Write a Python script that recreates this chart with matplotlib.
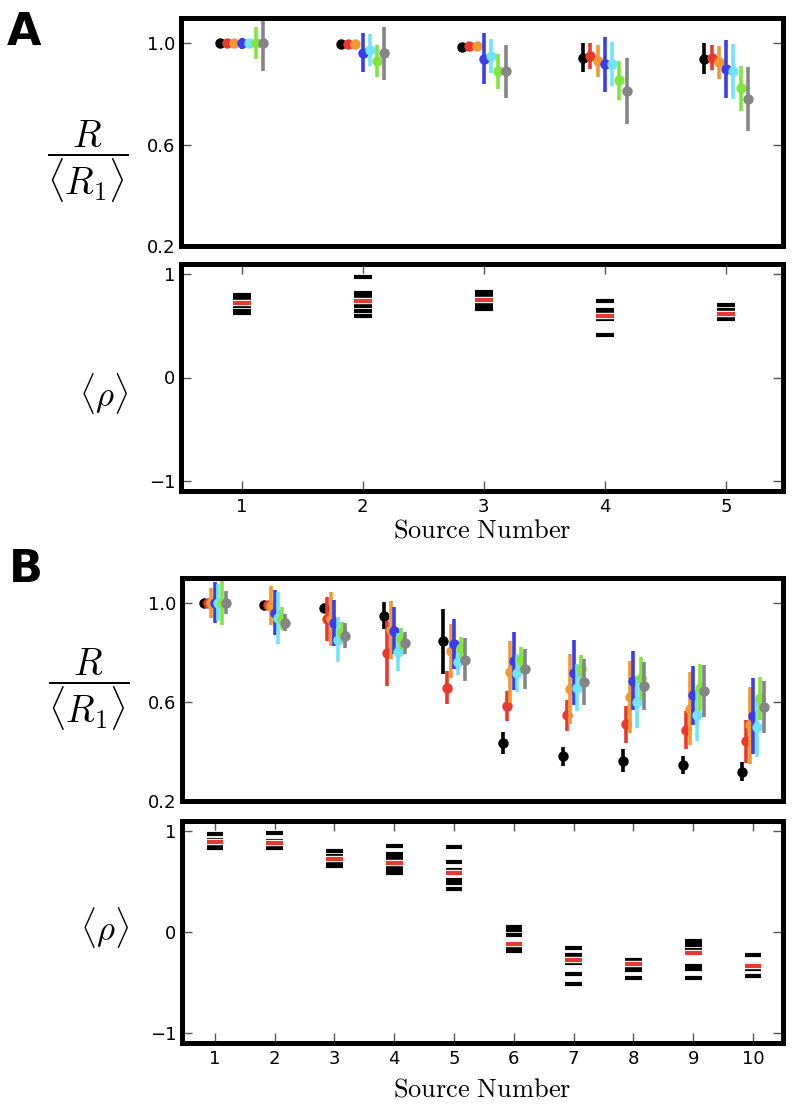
import matplotlib
matplotlib.use('Agg')
import matplotlib.pyplot as plt
import matplotlib.patheffects as pe
import numpy as np

plt.rcParams['mathtext.fontset'] = 'cm'
plt.rcParams['font.family'] = ['DejaVu Sans']

# ---------------- data ----------------
series_colors = ['#000000', '#e8392e', '#f2992f', '#3b3bef', '#70e4ff', '#80e63c', '#858585']
mean_color = '#e8392e'

sources_A = [1, 2, 3, 4, 5]
sources_B = [1, 2, 3, 4, 5, 6, 7, 8, 9, 10]

# Panel A, R/<R1> (one list per series: black, red, orange, blue, cyan, green, gray)
A_R_black = [1.000, 0.996, 0.987, 0.944, 0.940]
A_R_red = [1.000, 0.996, 0.990, 0.949, 0.944]
A_R_orange = [1.000, 0.996, 0.990, 0.930, 0.926]
A_R_blue = [1.000, 0.962, 0.940, 0.917, 0.900]
A_R_cyan = [1.000, 0.973, 0.949, 0.917, 0.890]
A_R_green = [1.000, 0.930, 0.890, 0.855, 0.823]
A_R_gray = [1.000, 0.960, 0.890, 0.812, 0.781]

A_E_black = [0.004, 0.004, 0.004, 0.058, 0.061]
A_E_red = [0.004, 0.004, 0.004, 0.051, 0.051]
A_E_orange = [0.004, 0.004, 0.004, 0.063, 0.065]
A_E_blue = [0.022, 0.077, 0.099, 0.109, 0.115]
A_E_cyan = [0.010, 0.064, 0.068, 0.087, 0.109]
A_E_green = [0.063, 0.064, 0.069, 0.077, 0.089]
A_E_gray = [0.110, 0.106, 0.104, 0.131, 0.126]

# Panel A, <rho> (black dashes per source, red = mean)
A_rho_1 = [0.80, 0.77, 0.74, 0.69, 0.64, 0.625]
A_rho_2 = [0.977, 0.82, 0.79, 0.69, 0.64, 0.60]
A_rho_3 = [0.83, 0.80, 0.77, 0.72, 0.69, 0.66]
A_rho_4 = [0.74, 0.655, 0.625, 0.58, 0.565, 0.41]
A_rho_5 = [0.70, 0.655, 0.63, 0.60, 0.58, 0.565]
A_rho_mean = [0.72, 0.745, 0.755, 0.60, 0.615]

# Panel B, R/<R1>
B_R_black = [1.000, 0.993, 0.980, 0.948, 0.844, 0.435, 0.380, 0.363, 0.345, 0.319]
B_R_red = [1.000, 0.993, 0.935, 0.797, 0.657, 0.584, 0.546, 0.509, 0.485, 0.441]
B_R_orange = [1.000, 0.989, 0.935, 0.892, 0.806, 0.722, 0.652, 0.620, 0.573, 0.505]
B_R_blue = [1.000, 0.959, 0.919, 0.887, 0.833, 0.765, 0.718, 0.685, 0.627, 0.542]
B_R_cyan = [1.000, 0.939, 0.851, 0.803, 0.763, 0.715, 0.657, 0.600, 0.546, 0.498]
B_R_green = [1.000, 0.936, 0.882, 0.854, 0.817, 0.769, 0.733, 0.695, 0.658, 0.614]
B_R_gray = [1.000, 0.919, 0.867, 0.837, 0.770, 0.733, 0.679, 0.664, 0.645, 0.580]

B_E_black = [0.004, 0.004, 0.016, 0.054, 0.130, 0.044, 0.039, 0.046, 0.037, 0.038]
B_E_red = [0.004, 0.004, 0.090, 0.131, 0.067, 0.060, 0.063, 0.073, 0.077, 0.087]
B_E_orange = [0.061, 0.077, 0.108, 0.117, 0.110, 0.125, 0.142, 0.144, 0.146, 0.154]
B_E_blue = [0.083, 0.091, 0.093, 0.095, 0.100, 0.117, 0.132, 0.119, 0.119, 0.153]
B_E_cyan = [0.075, 0.105, 0.092, 0.077, 0.055, 0.077, 0.095, 0.105, 0.103, 0.122]
B_E_green = [0.088, 0.045, 0.041, 0.043, 0.043, 0.054, 0.058, 0.088, 0.096, 0.088]
B_E_gray = [0.046, 0.034, 0.050, 0.045, 0.087, 0.081, 0.093, 0.098, 0.105, 0.104]

# Panel B, <rho>
B_rho_1 = [0.97, 0.91, 0.88, 0.86, 0.845, 0.835]
B_rho_2 = [0.983, 0.90, 0.87, 0.85, 0.84, 0.83]
B_rho_3 = [0.80, 0.75, 0.70, 0.685, 0.67, 0.655]
B_rho_4 = [0.85, 0.77, 0.73, 0.63, 0.605, 0.58]
B_rho_5 = [0.84, 0.69, 0.61, 0.52, 0.485, 0.43]
B_rho_6 = [0.05, 0.017, -0.033, -0.16, -0.175, -0.19]
B_rho_7 = [-0.16, -0.23, -0.265, -0.31, -0.42, -0.513]
B_rho_8 = [-0.275, -0.30, -0.33, -0.35, -0.38, -0.457]
B_rho_9 = [-0.093, -0.132, -0.175, -0.34, -0.364, -0.457]
B_rho_10 = [-0.228, -0.33, -0.35, -0.37, -0.437]
B_rho_mean = [0.895, 0.88, 0.72, 0.685, 0.58, -0.123, -0.28, -0.32, -0.205, -0.341]

A_R = [A_R_black, A_R_red, A_R_orange, A_R_blue, A_R_cyan, A_R_green, A_R_gray]
A_E = [A_E_black, A_E_red, A_E_orange, A_E_blue, A_E_cyan, A_E_green, A_E_gray]
B_R = [B_R_black, B_R_red, B_R_orange, B_R_blue, B_R_cyan, B_R_green, B_R_gray]
B_E = [B_E_black, B_E_red, B_E_orange, B_E_blue, B_E_cyan, B_E_green, B_E_gray]
A_rho = [A_rho_1, A_rho_2, A_rho_3, A_rho_4, A_rho_5]
B_rho = [B_rho_1, B_rho_2, B_rho_3, B_rho_4, B_rho_5, B_rho_6, B_rho_7, B_rho_8, B_rho_9, B_rho_10]

R_ticks = [0.2, 0.6, 1.0]
R_ticklabels = ['0.2', '0.6', '1.0']
rho_ticks = [-1, 0, 1]
rho_ticklabels = ['\u22121', '0', '1']

# ---------------- figure ----------------
W, H = 796, 1106
fig = plt.figure(figsize=(W / 100, H / 100), dpi=100)


def axes_px(x0, x1, y0, y1):
    return fig.add_axes([x0 / W, 1 - y1 / H, (x1 - x0) / W, (y1 - y0) / H])


axA1 = axes_px(181, 783, 18, 246)
axA2 = axes_px(181, 783, 264, 491)
axB1 = axes_px(182, 783, 578, 801)
axB2 = axes_px(182, 783, 821, 1043)

SPINE_W = 3.6


def style(ax, xlim, ylim, yticks, yticklabels, xticks=None):
    ax.set_xlim(*xlim)
    ax.set_ylim(*ylim)
    for s in ax.spines.values():
        s.set_linewidth(SPINE_W)
        s.set_zorder(20)
    ax.set_yticks(yticks)
    ax.set_yticklabels(yticklabels)
    if xticks is None:
        ax.set_xticks([])
    else:
        ax.set_xticks(xticks)
        ax.set_xticklabels([str(v) for v in xticks])
    ax.tick_params(axis='both', direction='in', length=7, width=1.0, color='#555555',
                   labelsize=13, top=xticks is not None, right=True, pad=5)
    ax.tick_params(axis='y', pad=4)


step = 0.06


def draw_R(ax, xs, R, E):
    for i, (m, e, c) in enumerate(zip(R, E, series_colors)):
        x = np.array(xs, dtype=float) + (i - 3) * step
        ax.errorbar(x, m, yerr=e, fmt='o', color=c, ms=7.5, mec=c, mew=0,
                    elinewidth=2.6, capsize=0, zorder=3 + i)


def draw_rho(ax, xs, groups, means, ms):
    stroke = [pe.Stroke(linewidth=4.6, foreground='white'), pe.Normal()]
    for x, vals in zip(xs, groups):
        ax.plot([x] * len(vals), vals, linestyle='none', marker='_', color='k',
                ms=ms, mew=3.0, path_effects=stroke, zorder=3)
    ax.plot(xs, means, linestyle='none', marker='_', color=mean_color,
            ms=ms, mew=3.0, path_effects=stroke, zorder=4)


draw_R(axA1, sources_A, A_R, A_E)
draw_rho(axA2, sources_A, A_rho, A_rho_mean, 13)
draw_R(axB1, sources_B, B_R, B_E)
draw_rho(axB2, sources_B, B_rho, B_rho_mean, 12)

style(axA1, (0.5, 5.47), (0.2, 1.1), R_ticks, R_ticklabels)
style(axA2, (0.5, 5.47), (-1.1, 1.1), rho_ticks, rho_ticklabels, sources_A)
style(axB1, (0.45, 10.5), (0.2, 1.1), R_ticks, R_ticklabels)
style(axB2, (0.45, 10.5), (-1.1, 1.1), rho_ticks, rho_ticklabels, sources_B)

R_label = r'$\dfrac{R}{\langle R_1\rangle}$'
rho_label = r'$\langle\rho\rangle$'
for ax, lab, yc, fs in [(axA1, R_label, 0.37, 27), (axA2, rho_label, 0.43, 25),
                        (axB1, R_label, 0.50, 27), (axB2, rho_label, 0.52, 25)]:
    ax.set_ylabel(lab, rotation=0, fontsize=fs, ha='right', va='center')
    ax.yaxis.set_label_coords(-0.087, yc)

axA2.set_xlabel(r'$\mathrm{Source\ Number}$', fontsize=19, labelpad=1)
axB2.set_xlabel(r'$\mathrm{Source\ Number}$', fontsize=19, labelpad=6)

fig.text(7 / W, 1 - 11 / H, 'A', fontsize=32, fontweight='heavy', ha='left', va='top')
fig.text(9 / W, 1 - 548 / H, 'B', fontsize=32, fontweight='heavy', ha='left', va='top')

fig.savefig('out.png', dpi=100)
